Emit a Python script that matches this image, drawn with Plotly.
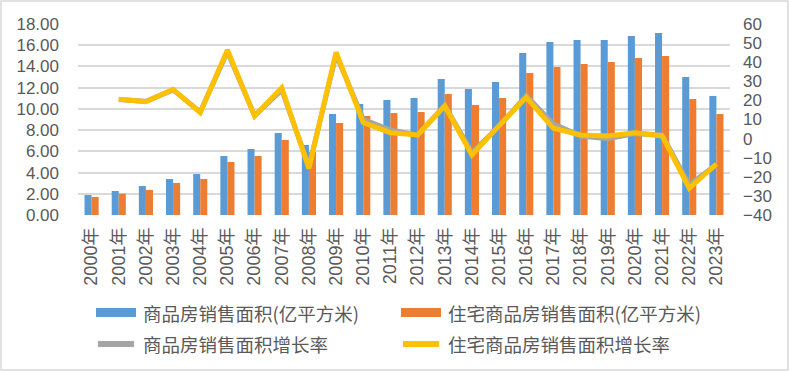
import plotly.graph_objects as go

years = [f"{y}年" for y in range(2000, 2024)]

total_area = [1.88, 2.26, 2.73, 3.39, 3.86, 5.56, 6.22, 7.73, 6.60, 9.52,
              10.46, 10.84, 11.03, 12.82, 11.88, 12.54, 15.27, 16.31, 16.49, 16.49,
              16.87, 17.15, 13.01, 11.22]
resi_area = [1.70, 2.01, 2.36, 3.02, 3.39, 5.00, 5.56, 7.07, 5.94, 8.67,
             9.33, 9.61, 9.71, 11.40, 10.37, 11.03, 13.38, 13.95, 14.23, 14.42,
             14.80, 14.99, 10.93, 9.52]
total_growth = [None, 20.5, 19.5, 25.5, 14.0, 45.5, 12.0, 25.5, -14.7, 44.0,
                10.1, 4.5, 1.8, 17.3, -7.3, 6.5, 22.5, 7.7, 1.3, -0.1,
                2.6, 1.9, -24.3, -13.5]
resi_growth = [None, 20.6, 19.3, 25.8, 13.6, 46.4, 11.8, 26.7, -15.6, 45.2,
               8.4, 3.1, 1.9, 17.1, -8.6, 6.8, 21.6, 5.4, 1.9, 1.4,
               3.1, 1.4, -26.0, -13.3]

names = ["商品房销售面积(亿平方米)", "住宅商品房销售面积(亿平方米)",
         "商品房销售面积增长率", "住宅商品房销售面积增长率"]
colors = ["#5B9BD5", "#ED7D31", "#A5A5A5", "#FFC000"]

left_ticks = [0, 2, 4, 6, 8, 10, 12, 14, 16, 18]
right_ticks = [-40, -30, -20, -10, 0, 10, 20, 30, 40, 50, 60]

FONT = "Liberation Sans, Noto Sans CJK SC, sans-serif"
CJK = "Noto Sans CJK SC, sans-serif"
TXT = "#595959"

fig = go.Figure()
fig.add_trace(go.Bar(x=years, y=total_area, name=names[0], marker_color=colors[0],
                     marker_line_width=0))
fig.add_trace(go.Bar(x=years, y=resi_area, name=names[1], marker_color=colors[1],
                     marker_line_width=0))
fig.add_trace(go.Scatter(x=years, y=total_growth, name=names[2], yaxis="y2", mode="lines",
                         line=dict(color=colors[2], width=5)))
fig.add_trace(go.Scatter(x=years, y=resi_growth, name=names[3], yaxis="y2", mode="lines",
                         line=dict(color=colors[3], width=5)))

fig.update_layout(
    width=789, height=371, autosize=False,
    margin=dict(l=78, r=59, t=24, b=156),
    paper_bgcolor="white", plot_bgcolor="white",
    barmode="group", bargap=0.48, bargroupgap=0,
    showlegend=False,
    font=dict(family=FONT, color=TXT, size=17),
    xaxis=dict(tickangle=-90, tickfont=dict(family=FONT, size=18, color=TXT),
               showgrid=False, showline=False, ticks="", ticklabelstandoff=8),
    yaxis=dict(range=[0, 18], tickvals=left_ticks,
               ticktext=[f"{v:.2f}" for v in left_ticks],
               showgrid=True, gridcolor="#D9D9D9", gridwidth=1.5,
               zeroline=False, showline=False, ticks="", ticklabelstandoff=18,
               tickfont=dict(family=FONT, size=17, color=TXT)),
    yaxis2=dict(range=[-40, 60], tickvals=right_ticks, overlaying="y", side="right",
                showgrid=False, zeroline=False, showline=False, ticks="",
                ticklabelstandoff=12,
                tickfont=dict(family=FONT, size=17, color=TXT)),
)

# Manual legend (swatches + labels), positions in paper coordinates
def px_x(x):
    return (x - 78) / 652.0

def px_y(y):
    return (215 - y) / 191.0

shapes = []
annotations = []
rows = [312.5, 344]
cols = [(96, 136, 141), (401, 441, 446)]
for i, nm in enumerate(names):
    r, c = divmod(i, 2)
    x0, x1, tx = cols[c]
    yc = rows[r]
    if i < 2:
        shapes.append(dict(type="rect", xref="paper", yref="paper",
                           x0=px_x(x0), x1=px_x(x1), y0=px_y(yc + 4.5), y1=px_y(yc - 4.5),
                           fillcolor=colors[i], line=dict(width=0)))
    else:
        shapes.append(dict(type="line", xref="paper", yref="paper",
                           x0=px_x(x0 + 2), x1=px_x(x1 - 2), y0=px_y(yc), y1=px_y(yc),
                           line=dict(color=colors[i], width=6)))
    annotations.append(dict(text=nm, xref="paper", yref="paper", x=px_x(tx), y=px_y(yc),
                            xanchor="left", yanchor="middle", showarrow=False,
                            font=dict(family=CJK, size=18.5, color=TXT)))

# outer border
shapes.append(dict(type="rect", xref="paper", yref="paper",
                   x0=px_x(1), x1=px_x(788), y0=px_y(370), y1=px_y(1),
                   line=dict(color="#D9D9D9", width=1.5), fillcolor="rgba(0,0,0,0)",
                   layer="above"))

fig.update_layout(shapes=shapes, annotations=annotations)

fig.write_html("out.html", config={"displayModeBar": False},
               post_script="document.body.style.margin='0';document.body.style.overflow='hidden';")
